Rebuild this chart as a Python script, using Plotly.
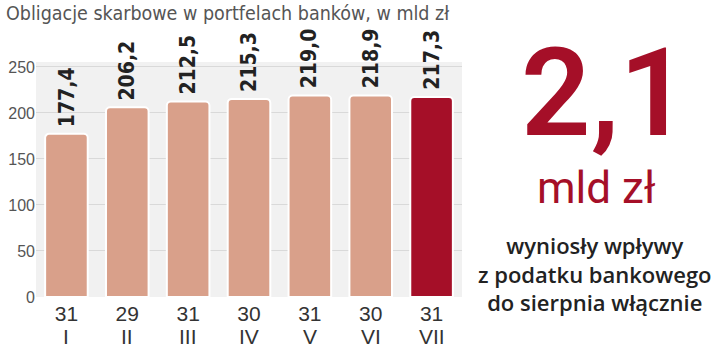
import plotly.graph_objects as go

days = ["31", "29", "31", "30", "31", "30", "31"]
months = ["I", "II", "III", "IV", "V", "VI", "VII"]
values = [177.4, 206.2, 212.5, 215.3, 219.0, 218.9, 217.3]
labels = ["177,4", "206,2", "212,5", "215,3", "219,0", "218,9", "217,3"]
highlight = "VII"

title_text = "Obligacje skarbowe w portfelach banków, w mld zł"
big_value = "2,1"
big_unit = "mld zł"
caption = ["wyniosły wpływy", "z podatku bankowego", "do sierpnia włącznie"]

LIGHT = "#d9a08a"
DARK = "#a50f28"
NARROW = "DejaVu Sans Condensed, sans-serif"
TICKFONT = "Liberation Sans, Arial, sans-serif"

colors = [DARK if m == highlight else LIGHT for m in months]

fig = go.Figure()
fig.add_trace(go.Bar(
    x=months, y=values,
    marker=dict(color=colors, line=dict(color="white", width=2), cornerradius=4),
    width=0.7, hoverinfo="skip",
))

fig.update_layout(
    width=720, height=347,
    margin=dict(l=35.5, r=257.5, t=62, b=50, autoexpand=False),
    paper_bgcolor="white",
    plot_bgcolor="#f1f1f1",
    showlegend=False,
    xaxis=dict(
        type="category", showgrid=False, zeroline=False, showline=False, automargin=False,
        tickvals=months, ticktext=days, ticklabelstandoff=2,
        ticks="", tickfont=dict(family=TICKFONT, size=21, color="#333333"),
    ),
    yaxis=dict(
        range=[0, 255.4], tickvals=[0, 50, 100, 150, 200, 250], automargin=False,
        showgrid=True, gridcolor="#d9d9d9", gridwidth=1, zeroline=False,
        ticks="", tickfont=dict(family=TICKFONT, size=16, color="#555555"),
    ),
)

annotations = []
for m, v, t in zip(months, values, labels):
    annotations.append(dict(
        text=t, x=m, y=v, xref="x", yref="y", textangle=-90,
        xanchor="center", yanchor="bottom", yshift=5, showarrow=False,
        font=dict(family=NARROW, size=21, color="#222222", weight="bold")))
    annotations.append(dict(
        text=m, x=m, y=0, xref="x", yref="y",
        xanchor="center", yanchor="middle", yshift=-39, showarrow=False,
        font=dict(family=TICKFONT, size=21, color="#333333")))

annotations += [
    dict(text=title_text, xref="paper", yref="paper", x=(3 - 35.5) / 427, y=(297 - 14) / 235,
         xanchor="left", yanchor="middle", showarrow=False,
         font=dict(family=NARROW, size=19.5, color="#555555")),
    dict(text=big_value, xref="paper", yref="paper", x=(606 - 35.5) / 427, y=(297 - 93) / 235,
         xanchor="center", yanchor="middle", showarrow=False,
         font=dict(family="Roboto, sans-serif", size=122, color=DARK, weight=600)),
    dict(text=big_unit, xref="paper", yref="paper", x=(597 - 35.5) / 427, y=(297 - 188) / 235,
         xanchor="center", yanchor="middle", showarrow=False, height=40,
         font=dict(family="Roboto, sans-serif", size=44, color=DARK, weight=400)),
    dict(text="<br>".join(caption), xref="paper", yref="paper", x=(596 - 35.5) / 427,
         y=(297 - 273) / 235, xanchor="center", yanchor="middle", align="center", showarrow=False,
         font=dict(family="Open Sans, sans-serif", size=22, color="#222222", weight=600)),
]
fig.update_layout(annotations=annotations)

fig.write_html("out.html")
